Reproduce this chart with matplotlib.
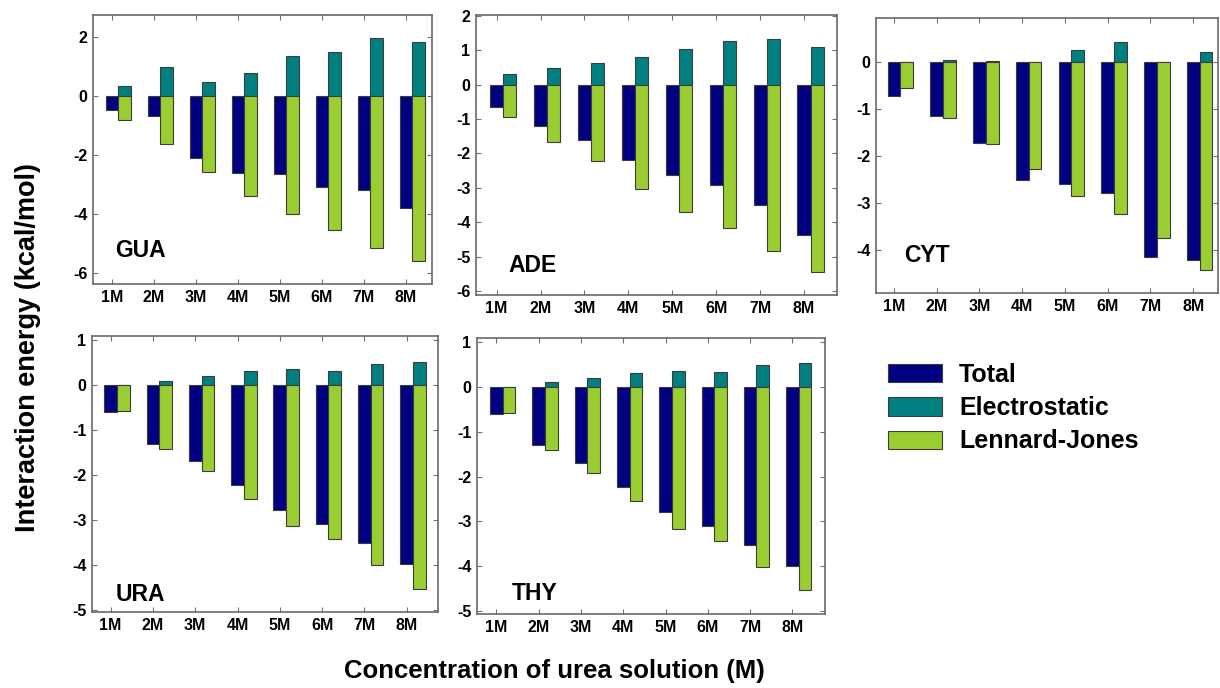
import matplotlib.pyplot as plt
import numpy as np

plt.rcParams['font.family'] = ['Liberation Sans', 'DejaVu Sans']
plt.rcParams['font.weight'] = 'bold'
plt.rcParams['axes.unicode_minus'] = False

conc_labels = ['1M', '2M', '3M', '4M', '5M', '6M', '7M', '8M']

gua_total = [-0.48, -0.67, -2.09, -2.62, -2.64, -3.09, -3.18, -3.78]
gua_elec = [0.33, 0.97, 0.48, 0.76, 1.35, 1.47, 1.96, 1.81]
gua_lj = [-0.83, -1.64, -2.56, -3.39, -3.99, -4.54, -5.13, -5.57]

ade_total = [-0.64, -1.19, -1.61, -2.20, -2.64, -2.92, -3.50, -4.36]
ade_elec = [0.31, 0.48, 0.63, 0.81, 1.04, 1.26, 1.34, 1.09]
ade_lj = [-0.94, -1.67, -2.23, -3.03, -3.69, -4.18, -4.83, -5.46]

cyt_total = [-0.71, -1.14, -1.71, -2.51, -2.59, -2.79, -4.14, -4.21]
cyt_elec = [0.0, 0.05, 0.02, 0.0, 0.26, 0.43, 0.0, 0.21]
cyt_lj = [-0.54, -1.19, -1.74, -2.28, -2.84, -3.24, -3.74, -4.43]

ura_total = [-0.60, -1.30, -1.69, -2.23, -2.78, -3.09, -3.51, -3.99]
ura_elec = [0.0, 0.10, 0.20, 0.31, 0.36, 0.33, 0.48, 0.53]
ura_lj = [-0.57, -1.41, -1.91, -2.53, -3.14, -3.43, -4.00, -4.53]

thy_total = [-0.60, -1.30, -1.69, -2.23, -2.78, -3.11, -3.53, -4.00]
thy_elec = [0.0, 0.11, 0.21, 0.32, 0.36, 0.34, 0.50, 0.53]
thy_lj = [-0.57, -1.41, -1.92, -2.54, -3.16, -3.43, -4.01, -4.54]

NAVY = '#000080'
TEAL = '#008080'
GREEN = '#9ACD32'
EDGE = '#3c3c3c'

W, H = 1220, 688
fig = plt.figure(figsize=(W / 100, H / 100), dpi=100)


def panel(box, name, total, elec, lj, ylim, yticks, xlim, label_pos):
    # box is (left, top, right, bottom) in figure pixels
    l, t, r, b = box
    ax = fig.add_axes([l / W, 1 - b / H, (r - l) / W, (b - t) / H])
    x = np.arange(1, len(conc_labels) + 1)
    w = 0.3
    ax.bar(x, total, w, color=NAVY, edgecolor=EDGE, linewidth=0.8, label='Total')
    ax.bar(x + w, elec, w, color=TEAL, edgecolor=EDGE, linewidth=0.8, label='Electrostatic')
    ax.bar(x + w, lj, w, color=GREEN, edgecolor=EDGE, linewidth=0.8, label='Lennard-Jones')
    ax.set_xlim(*xlim)
    ax.set_ylim(*ylim)
    ax.set_xticks(x)
    ax.set_xticklabels(conc_labels)
    ax.set_yticks(yticks)
    ax.tick_params(direction='in', top=True, right=True, length=3.5,
                   width=0.8, color='#707070', labelsize=11.5)
    ax.tick_params(axis='x', pad=4)
    ax.tick_params(axis='y', pad=4)
    for s in ax.spines.values():
        s.set_color('#6a6a6a')
        s.set_linewidth(1.2)
    ax.text(label_pos[0], label_pos[1], name, transform=ax.transAxes,
            fontsize=16.5, fontweight='bold', va='center', ha='left')
    return ax


ax_gua = panel((93, 15, 432, 284), 'GUA', gua_total, gua_elec, gua_lj,
               (-6.36, 2.73), [-6, -4, -2, 0, 2], (0.55, 8.62), (0.065, 0.126))
panel((476, 15, 837, 295), 'ADE', ade_total, ade_elec, ade_lj,
      (-6.12, 2.03), [-6, -5, -4, -3, -2, -1, 0, 1, 2], (0.53, 8.75), (0.089, 0.107))
panel((876, 18, 1218, 293), 'CYT', cyt_total, cyt_elec, cyt_lj,
      (-4.91, 0.94), [-4, -3, -2, -1, 0], (0.58, 8.58), (0.082, 0.138))
panel((92, 336, 438, 612), 'URA', ura_total, ura_elec, ura_lj,
      (-5.05, 1.1), [-5, -4, -3, -2, -1, 0, 1], (0.56, 8.74), (0.069, 0.062))
panel((477, 338, 825, 614), 'THY', thy_total, thy_elec, thy_lj,
      (-5.07, 1.1), [-5, -4, -3, -2, -1, 0, 1], (0.54, 8.77), (0.101, 0.076))

handles, labels = ax_gua.get_legend_handles_labels()
fig.legend(handles, labels, loc='upper left', bbox_to_anchor=(865 / W, 1 - 340 / H),
           frameon=False, prop={'size': 18, 'weight': 'bold'},
           handlelength=2.16, handleheight=0.76, labelspacing=0.38, handletextpad=0.7)

fig.text(28 / W, 1 - 347 / H, 'Interaction energy (kcal/mol)', rotation=90,
         ha='center', va='center', fontsize=19.5, fontweight='bold')
fig.text(554 / W, 1 - 671 / H, 'Concentration of urea solution (M)',
         ha='center', va='center', fontsize=18.5, fontweight='bold')

fig.savefig('out.png', dpi=100)
